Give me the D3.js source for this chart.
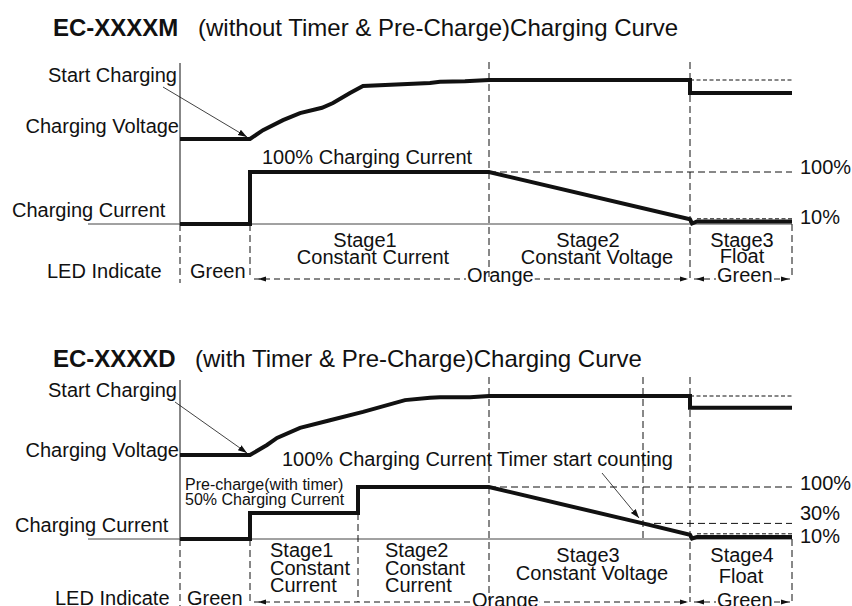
<!DOCTYPE html>
<html><head><meta charset="utf-8">
<script src="https://cdn.jsdelivr.net/npm/d3@7"></script>
<style>
body{margin:0;background:#fff}
svg{display:block}
text{font-family:"Liberation Sans",Arial,Helvetica,sans-serif;fill:#111}
</style>
</head><body><svg id="c" width="852" height="606"></svg>
<script>
// ---------- data (time in arbitrary units, levels in % of full scale) ----------
const titleM = ["EC-XXXXM", "(without Timer & Pre-Charge)Charging Curve"];
const titleD = ["EC-XXXXD", "(with Timer & Pre-Charge)Charging Curve"];
const timeDomain = [0, 612];

// EC-XXXXM
const stageTimesM = [70, 309, 510];            // charger on, CC->CV, CV->float
const voltageM = [[0,0],[70,0],[83,15],[103,32],[120,44],[142,53],[153,61],[170,78],[183,90],[250,95],[260,97],[285,98],[309,100],[510,100],[510,78],[612,78]];
const currentM = [[0,0],[70,0],[70,100],[309,100],[510,9],[512,1],[517,5],[612,5]];
const levelLabelsM = ["100%", "10%"];
const levelValuesM = [100, 10];
const stageLabelsM = [["Stage1","Constant Current"],["Stage2","Constant Voltage"],["Stage3","Float","Green"]];

// EC-XXXXD
const stageTimesD = [70, 178, 309, 463, 510];  // charger on, pre->CC, CC->CV, timer start, CV->float
const voltageD = [[0,0],[70,0],[87,17],[97,29],[120,46],[150,59],[183,73],[225,93],[250,97],[260,98],[290,98],[309,100],[510,100],[510,80],[612,80]];
const currentD = [[0,0],[70,0],[70,50],[178,50],[178,100],[309,100],[463,30],[510,8],[512,1],[517,4],[612,4]];
const levelLabelsD = ["100%", "30%", "10%"];
const levelValuesD = [100, 30, 10];
const stageLabelsD = [["Stage1","Constant","Current"],["Stage2","Constant","Current"],["Stage3","Constant Voltage"],["Stage4","Float","Green"]];

const rowLabels = ["Start Charging", "Charging Voltage", "Charging Current", "LED Indicate"];
const ledLabels = ["Green", "Orange", "Green"];

// ---------- drawing ----------
const svg = d3.select("#c");
const x = d3.scaleLinear().domain(timeDomain).range([180, 792]);

svg.append("defs").append("marker")
  .attr("id","ah").attr("viewBox","0 0 10 10").attr("refX",10).attr("refY",5)
  .attr("markerWidth",9).attr("markerHeight",9).attr("markerUnits","userSpaceOnUse").attr("orient","auto")
  .append("path").attr("d","M0,1.5L10,5L0,8.5Z").attr("fill","#111");

function txt(t, px, py, opt={}) {
  return svg.append("text").attr("x", px).attr("y", py)
    .attr("font-size", opt.size || 20)
    .attr("font-weight", opt.bold ? "bold" : null)
    .attr("text-anchor", opt.anchor || "start")
    .text(t);
}
function seg(x1,y1,x2,y2,dash,w) {
  return svg.append("line").attr("x1",x1).attr("y1",y1).attr("x2",x2).attr("y2",y2)
    .attr("stroke","#111").attr("stroke-width",w||1).attr("stroke-dasharray",dash||null);
}
function tri(tipX, y, dir) { // dir: -1 points left, 1 points right
  const b = tipX - dir*8;
  svg.append("path").attr("d",`M${tipX},${y}L${b},${y-2.5}L${b},${y+2.5}Z`).attr("fill","#111");
}
const D1 = "7,4", DF = "4,2.5";

function panel(cfg) {
  const yV = d3.scaleLinear().domain([0,100]).range(cfg.vRange);
  const yI = d3.scaleLinear().domain([0,100]).range(cfg.iRange);
  const line = (ys) => d3.line().x(d=>x(d[0])).y(d=>ys(d[1]));
  const base = yI(0);

  // title
  txt(cfg.title[0], 53, cfg.titleY, {size:24, bold:true});
  txt(cfg.title[1], cfg.title2X, cfg.titleY, {size:24});

  // left solid axis and baseline
  seg(x(0), cfg.axisTop, x(0), base);
  seg(88, base, x(timeDomain[1]), base, null, 1).attr("stroke","#444");

  // vertical stage separators
  cfg.fullDividers.forEach(t => seg(x(t), cfg.divTop, x(t), cfg.ledY, D1));
  cfg.shortDividers.forEach(t => seg(x(t), cfg.divTop, x(t), base, D1));
  seg(x(0), base, x(0), cfg.ledY+4, D1);
  seg(x(stageTimesFor(cfg)[0]), base, x(stageTimesFor(cfg)[0]), cfg.ledY, D1);
  cfg.lowDividers.forEach(d => seg(x(d[0]), yI(d[1]), x(d[0]), cfg.ledY, D1));
  seg(x(timeDomain[1]), base, x(timeDomain[1]), cfg.ledY, D1);

  // reference levels
  const tEnd = timeDomain[1];
  seg(x(cfg.floatT), yV(100), x(tEnd), yV(100), DF);
  cfg.levels.forEach((lv,i) => {
    seg(x(cfg.levelStart[i]), yI(lv), x(tEnd), yI(lv), lv===10 ? DF : D1);
    txt(cfg.levelLabels[i], 800, cfg.levelLabelY[i]);
  });

  // curves
  svg.append("path").datum(cfg.voltage).attr("d", line(yV))
    .attr("fill","none").attr("stroke","#111").attr("stroke-width",4).attr("stroke-linejoin","miter");
  svg.append("path").datum(cfg.current).attr("d", line(yI))
    .attr("fill","none").attr("stroke","#111").attr("stroke-width",4).attr("stroke-linejoin","miter");

  // row labels
  txt(rowLabels[0], 177, cfg.startY, {anchor:"end"});
  txt(rowLabels[1], 179, cfg.voltLabelY, {anchor:"end"});
  txt(rowLabels[2], cfg.curLabelX, cfg.curLabelY);
  txt(rowLabels[3], cfg.ledLabelX, cfg.ledTextY);

  // start charging arrow
  svg.append("line").attr("x1",cfg.startArrow[0]).attr("y1",cfg.startArrow[1])
    .attr("x2",cfg.startArrow[2]).attr("y2",cfg.startArrow[3])
    .attr("stroke","#111").attr("stroke-width",0.8).attr("marker-end","url(#ah)");

  // LED row
  const t0 = stageTimesFor(cfg)[0], tF = cfg.floatT;
  seg(x(t0)+4, cfg.ledY, x(tF)-4, cfg.ledY, "6,4");
  seg(x(tF)+4, cfg.ledY, x(tEnd)-2, cfg.ledY, "6,4");
  tri(x(t0)+8, cfg.ledY, -1); tri(x(tF)-2, cfg.ledY, 1);
  tri(x(tF)+6, cfg.ledY, -1); tri(x(tEnd)-3, cfg.ledY, 1);
  txt(ledLabels[0], cfg.greenX, cfg.ledTextY);
  cfg.ledExtra.forEach(e => {
    const b = txt(e[0], e[1], e[2]);
    // white background behind the label so the dashes break
    const bb = b.node().getBBox();
    svg.insert("rect","text:last-of-type").attr("x",bb.x-1).attr("y",cfg.ledY-2).attr("width",bb.width+2).attr("height",4).attr("fill","#fff");
    b.raise();
  });
}
function stageTimesFor(cfg){ return cfg.stageTimes; }

// ---------- panel M ----------
panel({
  title: titleM, titleY: 36, title2X: 198,
  vRange: [139, 80], iRange: [224, 172],
  axisTop: 63, divTop: 62, ledY: 279,
  stageTimes: stageTimesM, floatT: stageTimesM[2],
  fullDividers: [stageTimesM[1], stageTimesM[2]], shortDividers: [], lowDividers: [],
  levels: levelValuesM, levelLabels: levelLabelsM, levelStart: [stageTimesM[1], 517], levelLabelY: [174, 224],
  voltage: voltageM, current: currentM,
  startY: 82, voltLabelY: 133, curLabelX: 12, curLabelY: 217, ledLabelX: 47, ledTextY: 278,
  startArrow: [163, 87, 247, 137],
  greenX: 190,
  ledExtra: [[ledLabels[1], 467, 282], [ledLabels[2], 717, 282]]
});
txt("100% Charging Current", 262, 164);
txt(stageLabelsM[0][0], 365, 247, {anchor:"middle"});
txt(stageLabelsM[0][1], 373, 264, {anchor:"middle"});
txt(stageLabelsM[1][0], 588, 247, {anchor:"middle"});
txt(stageLabelsM[1][1], 597, 264, {anchor:"middle"});
txt(stageLabelsM[2][0], 742, 247, {anchor:"middle"});
txt(stageLabelsM[2][1], 742, 263, {anchor:"middle"});

// ---------- panel D ----------
panel({
  title: titleD, titleY: 367, title2X: 195,
  vRange: [455, 396], iRange: [539, 487],
  axisTop: 380, divTop: 377, ledY: 602,
  stageTimes: stageTimesD, floatT: stageTimesD[4],
  fullDividers: [stageTimesD[2], stageTimesD[4]], shortDividers: [stageTimesD[3]], lowDividers: [[stageTimesD[1], 50]],
  levels: levelValuesD, levelLabels: levelLabelsD, levelStart: [stageTimesD[2], stageTimesD[3], 517], levelLabelY: [490, 520, 543],
  voltage: voltageD, current: currentD,
  startY: 397, voltLabelY: 457, curLabelX: 15, curLabelY: 532, ledLabelX: 55, ledTextY: 605,
  startArrow: [175, 402, 247, 453],
  greenX: 187,
  ledExtra: [[ledLabels[1], 472, 607], [ledLabels[2], 717, 607]]
});
txt("100% Charging Current", 282, 466);
txt("Timer start counting", 497, 466);
txt("Pre-charge(with timer)", 185, 490, {size:16});
txt("50% Charging Current", 185, 505, {size:16});
svg.append("line").attr("x1",602).attr("y1",473).attr("x2",x(stageTimesD[3])-4).attr("y2",518)
  .attr("stroke","#111").attr("stroke-width",0.8).attr("marker-end","url(#ah)");
[[stageLabelsD[0],270],[stageLabelsD[1],385]].forEach(([lab,px]) => {
  lab.forEach((s,i) => txt(s, px, [557,575,592][i]));
});
txt(stageLabelsD[2][0], 588, 562, {anchor:"middle"});
txt(stageLabelsD[2][1], 592, 580, {anchor:"middle"});
txt(stageLabelsD[3][0], 742, 562, {anchor:"middle"});
txt(stageLabelsD[3][1], 741, 583, {anchor:"middle"});
</script>
</body></html>
